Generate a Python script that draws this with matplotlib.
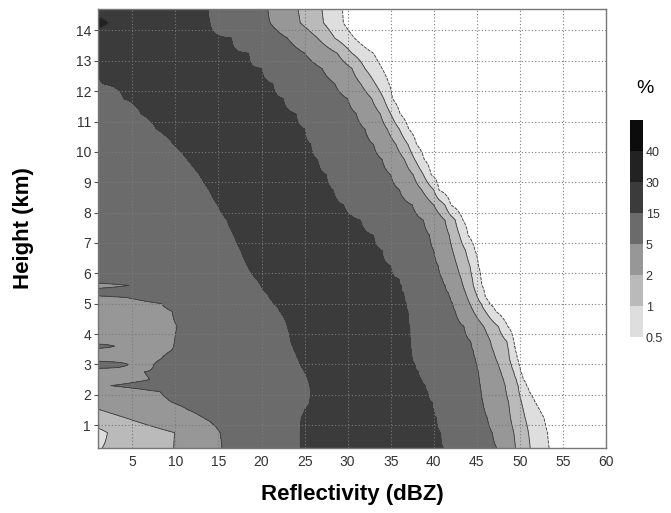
import numpy as np
import matplotlib.pyplot as plt
from matplotlib import font_manager

plt.rcParams['font.family'] = ['Liberation Sans', 'DejaVu Sans']

# rows of the CFAD (km)
heights = [0.25, 0.75, 1.25, 1.5, 1.75, 2.1, 2.3, 2.5, 2.75, 3.0,
           3.2, 3.45, 3.6, 3.75, 4.25, 4.75, 5.0, 5.2, 5.35, 5.6,
           5.8, 6.25, 6.75, 7.25, 7.75, 8.25, 8.75, 9.25, 9.75, 10.25,
           10.75, 11.25, 11.75, 12.25, 12.75, 13.25, 13.75, 14.25, 14.75]

# reflectivity (dBZ) where the frequency drops below each level, right side
edge15_r = [41.1, 40.8, 40.3, 40.0, 39.8, 39.3, 39.0, 38.6, 38.2, 37.8,
            37.5, 37.4, 37.3, 37.3, 37.2, 37.0, 36.8, 36.6, 36.5, 36.2,
            36.0, 35.0, 34.0, 33.0, 31.5, 29.5, 28.3, 27.5, 26.5, 25.7,
            25.0, 24.0, 22.5, 21.3, 20.0, 18.5, 16.5, 14.0, 13.8]
edge5_r = [47.3, 46.8, 46.2, 45.9, 45.7, 45.5, 45.4, 45.3, 45.2, 45.0,
           44.8, 44.6, 44.4, 44.3, 43.5, 42.5, 42.2, 41.9, 41.7, 41.3,
           41.0, 40.5, 40.0, 39.5, 38.8, 37.5, 36.0, 35.0, 34.0, 33.0,
           32.0, 31.0, 30.0, 28.5, 27.0, 25.0, 23.0, 21.0, 20.7]
edge2_r = [49.5, 49.3, 48.9, 48.8, 48.7, 48.4, 48.3, 48.1, 47.8, 47.5,
           47.2, 46.9, 46.7, 46.6, 45.8, 44.6, 44.2, 43.9, 43.7, 43.4,
           43.2, 42.7, 42.2, 41.8, 41.3, 40.0, 38.6, 37.6, 36.6, 35.6,
           34.6, 33.8, 32.8, 31.5, 30.5, 28.8, 26.5, 24.5, 24.2]
edge1_r = [51.2, 51.0, 50.6, 50.4, 50.2, 49.9, 49.8, 49.6, 49.3, 49.0,
           48.8, 48.7, 48.6, 48.5, 47.5, 46.0, 45.5, 45.1, 44.9, 44.6,
           44.5, 44.2, 43.7, 43.0, 42.5, 41.3, 40.0, 38.8, 37.8, 37.0,
           36.0, 35.0, 34.2, 33.2, 32.0, 30.5, 28.5, 27.2, 27.0]
edge05_r = [53.4, 53.2, 52.8, 52.3, 51.8, 51.1, 50.8, 50.4, 50.1, 49.9,
            49.7, 49.5, 49.4, 49.3, 48.6, 47.2, 46.5, 46.0, 45.9, 45.6,
            45.5, 45.2, 44.8, 44.0, 43.4, 42.0, 40.6, 39.7, 38.9, 38.0,
            37.1, 36.1, 35.2, 34.8, 34.0, 33.0, 30.8, 29.5, 29.4]

# left side: where the frequency rises above each level (only rows where it does)
edge15_l = {0.25: 24.5, 0.75: 24.5, 1.25: 24.6, 1.5: 25.0, 1.75: 25.6,
            2.1: 25.7, 2.3: 25.6, 2.5: 25.4, 2.75: 25.0, 3.0: 24.5,
            3.2: 24.2, 3.45: 23.8, 3.6: 23.6, 3.75: 23.4, 4.25: 23.0,
            4.75: 22.1, 5.0: 21.4, 5.2: 20.9, 5.35: 20.6, 5.6: 19.9,
            5.8: 19.4, 6.25: 18.4, 6.75: 17.6, 7.25: 16.8, 7.75: 16.0,
            8.25: 14.9, 8.75: 13.9, 9.25: 12.8, 9.75: 11.4, 10.25: 9.8,
            10.75: 7.8, 11.25: 6.0, 11.75: 4.0, 12.25: 1.5}
edge5_l = {0.25: 15.4, 0.75: 15.2, 1.25: 13.2, 1.5: 11.5, 1.75: 9.6,
           2.1: 8.2, 2.3: 2.5, 2.5: 7.0, 2.75: 6.4, 3.0: 7.5, 3.2: 8.4,
           3.45: 9.5, 3.6: 9.8, 3.75: 9.9, 4.25: 10.2, 4.75: 9.6,
           5.0: 8.4, 5.2: 4.4, 5.6: 4.6}
edge2_l = {0.25: 9.8, 0.75: 9.9, 1.25: 4.1, 1.5: 1.3}
edge1_l = {0.25: 1.5, 0.75: 2.1}
# thin 5-15 % streaks hugging the left axis
streak_end = {3.0: 4.5, 3.6: 2.9}
# small >30 % core in the top left corner: (edge dBZ, peak %)
core30 = {14.25: (2.3, 48.0)}

levels = [0.5, 1, 2, 5, 15, 30, 40, 100]
greys = ['#dedede', '#bababa', '#979797', '#6b6b6b', '#3b3b3b', '#222222', '#0c0c0c']
band_mid = {1: 0.7, 2: 1.4, 5: 3.2, 15: 8.5}

# build log10(frequency) row by row, piecewise linear between the band edges
x = np.arange(0.0, 62.0, 0.05)
logf = np.zeros((len(heights), len(x)))
for i, h in enumerate(heights):
    rising = [(d.get(h), v) for d, v in ((edge1_l, 1), (edge2_l, 2), (edge5_l, 5), (edge15_l, 15))]
    rising = [(xx, v) for xx, v in rising if xx is not None]
    if h in core30:
        knots = [(0.0, core30[h][1]), (core30[h][0], 30.0)]
    elif h in streak_end:
        knots = [(0.0, 8.5), (streak_end[h], 5.0),
                 ((streak_end[h] + rising[0][0]) / 2, 3.2)]
    elif rising:
        knots = [(0.0, band_mid[rising[0][1]])]
    else:
        knots = [(0.0, 21.0)]
    knots += rising
    if rising and rising[-1][1] == 15:
        knots.append(((rising[-1][0] + edge15_r[i]) / 2, 21.0))
    knots += [(edge15_r[i], 15), (edge5_r[i], 5), (edge2_r[i], 2),
              (edge1_r[i], 1), (edge05_r[i], 0.5), (edge05_r[i] + 2.0, 0.25)]
    kx, kv = zip(*knots)
    logf[i] = np.interp(x, kx, np.log10(kv))

log_levels = np.log10(levels)

fig = plt.figure(figsize=(6.71, 5.13), dpi=100)
ax = fig.add_axes([0.146, 0.127, 0.757, 0.855])

cf = ax.contourf(x, heights, logf, levels=log_levels, colors=greys)
ax.contour(x, heights, logf, levels=log_levels[:-2], colors='#3c3c3c', linewidths=0.6)

ax.set_xlim(1, 60)
ax.set_ylim(0.25, 14.7)
ax.set_xticks(range(5, 61, 5))
ax.set_yticks(range(1, 15))
ax.grid(True, color='#7a7a7a', linestyle=(0, (1, 2)), linewidth=0.8)
ax.set_axisbelow(False)

tick_font = 'Liberation Sans Narrow'
names = {f.name for f in font_manager.fontManager.ttflist}
if tick_font not in names:
    tick_font = 'Liberation Sans'
for lab in ax.get_xticklabels() + ax.get_yticklabels():
    lab.set_fontfamily(tick_font)
    lab.set_fontsize(10)
    lab.set_color('#333333')
ax.tick_params(axis='x', length=0, pad=5)
ax.tick_params(axis='y', length=3, width=0.8, color='#555555', pad=2)
for s in ax.spines.values():
    s.set_color('#777777')
    s.set_linewidth(1.0)

ax.set_xlabel('Reflectivity (dBZ)', fontsize=16, fontweight='bold', labelpad=11)
ax.set_ylabel('Height (km)', fontsize=16, fontweight='bold', labelpad=30)

cax = fig.add_axes([0.939, 0.343, 0.019, 0.423])
cb = fig.colorbar(cf, cax=cax, ticks=log_levels[:-1])
cb.set_ticklabels(['0.5', '1', '2', '5', '15', '30', '40'])
cb.outline.set_linewidth(0)
cax.tick_params(length=0, pad=2)
for lab in cax.get_yticklabels():
    lab.set_fontfamily(tick_font)
    lab.set_fontsize(9)
    lab.set_color('#333333')
fig.text(0.961, 0.828, '%', fontsize=14, ha='center', va='center')

fig.savefig('out.png', dpi=100)
